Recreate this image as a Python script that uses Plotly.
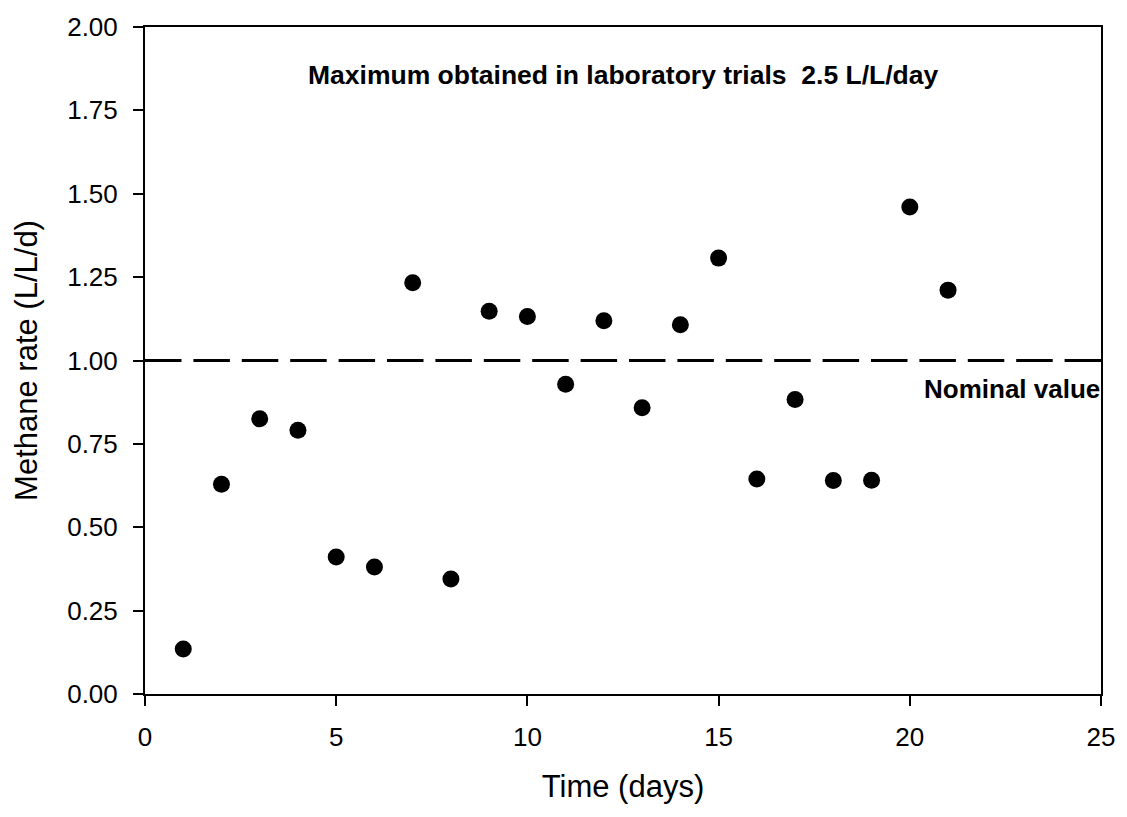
import plotly.graph_objects as go

days = list(range(1, 22))
methane_rate = [0.135, 0.629, 0.825, 0.791, 0.411, 0.381, 1.233, 0.345, 1.148, 1.132,
                0.929, 1.119, 0.858, 1.107, 1.307, 0.645, 0.883, 0.640, 0.641, 1.460, 1.211]

nominal_x = [0, 25]
nominal_y = [1.0, 1.0]

x_ticks = [0, 5, 10, 15, 20, 25]
y_ticks = [0.0, 0.25, 0.5, 0.75, 1.0, 1.25, 1.5, 1.75, 2.0]
y_tick_labels = ["0.00", "0.25", "0.50", "0.75", "1.00", "1.25", "1.50", "1.75", "2.00"]

FONT = "Liberation Sans, Arial, sans-serif"

fig = go.Figure()
fig.add_trace(go.Scatter(x=nominal_x, y=nominal_y, mode="lines",
                         line=dict(color="black", width=3, dash="36.5px,11.9px"),
                         hoverinfo="skip", showlegend=False))
fig.add_trace(go.Scatter(x=days, y=methane_rate, mode="markers",
                         marker=dict(color="black", size=17),
                         showlegend=False))

fig.add_annotation(x=12.5, y=1.856, xref="x", yref="y",
                   text="<b>Maximum obtained in laboratory trials&nbsp;&nbsp;2.5 L/L/day</b>",
                   showarrow=False, xanchor="center", yanchor="middle",
                   font=dict(family=FONT, size=26.5, color="black"), borderpad=0)
fig.add_annotation(x=25, y=0.914, xref="x", yref="y",
                   text="<b>Nominal value</b>",
                   showarrow=False, xanchor="right", yanchor="middle",
                   font=dict(family=FONT, size=26, color="black"), borderpad=0)

fig.update_layout(
    width=1127, height=817,
    margin=dict(l=145, r=23, t=22, b=123),
    paper_bgcolor="white", plot_bgcolor="white",
    font=dict(family=FONT, size=26, color="black"),
    showlegend=False,
)
fig.update_xaxes(range=[0, 25], tickvals=x_ticks, ticks="outside", ticklen=10, tickwidth=2,
                 tickcolor="black", showline=True, linecolor="black", linewidth=2, mirror=True,
                 showgrid=False, zeroline=False, ticklabelstandoff=9,
                 title=dict(text="Time (days)", font=dict(size=31), standoff=24))
fig.update_yaxes(range=[0, 2], tickvals=y_ticks, ticktext=y_tick_labels, ticks="outside",
                 ticklen=10, tickwidth=2, tickcolor="black", showline=True, linecolor="black",
                 linewidth=2, mirror=True, showgrid=False, zeroline=False, ticklabelstandoff=10,
                 title=dict(text="Methane rate (L/L/d)", font=dict(size=31), standoff=20))

fig.write_html("out.html", config={"displayModeBar": False},
               post_script="document.body.style.margin='0px';")
